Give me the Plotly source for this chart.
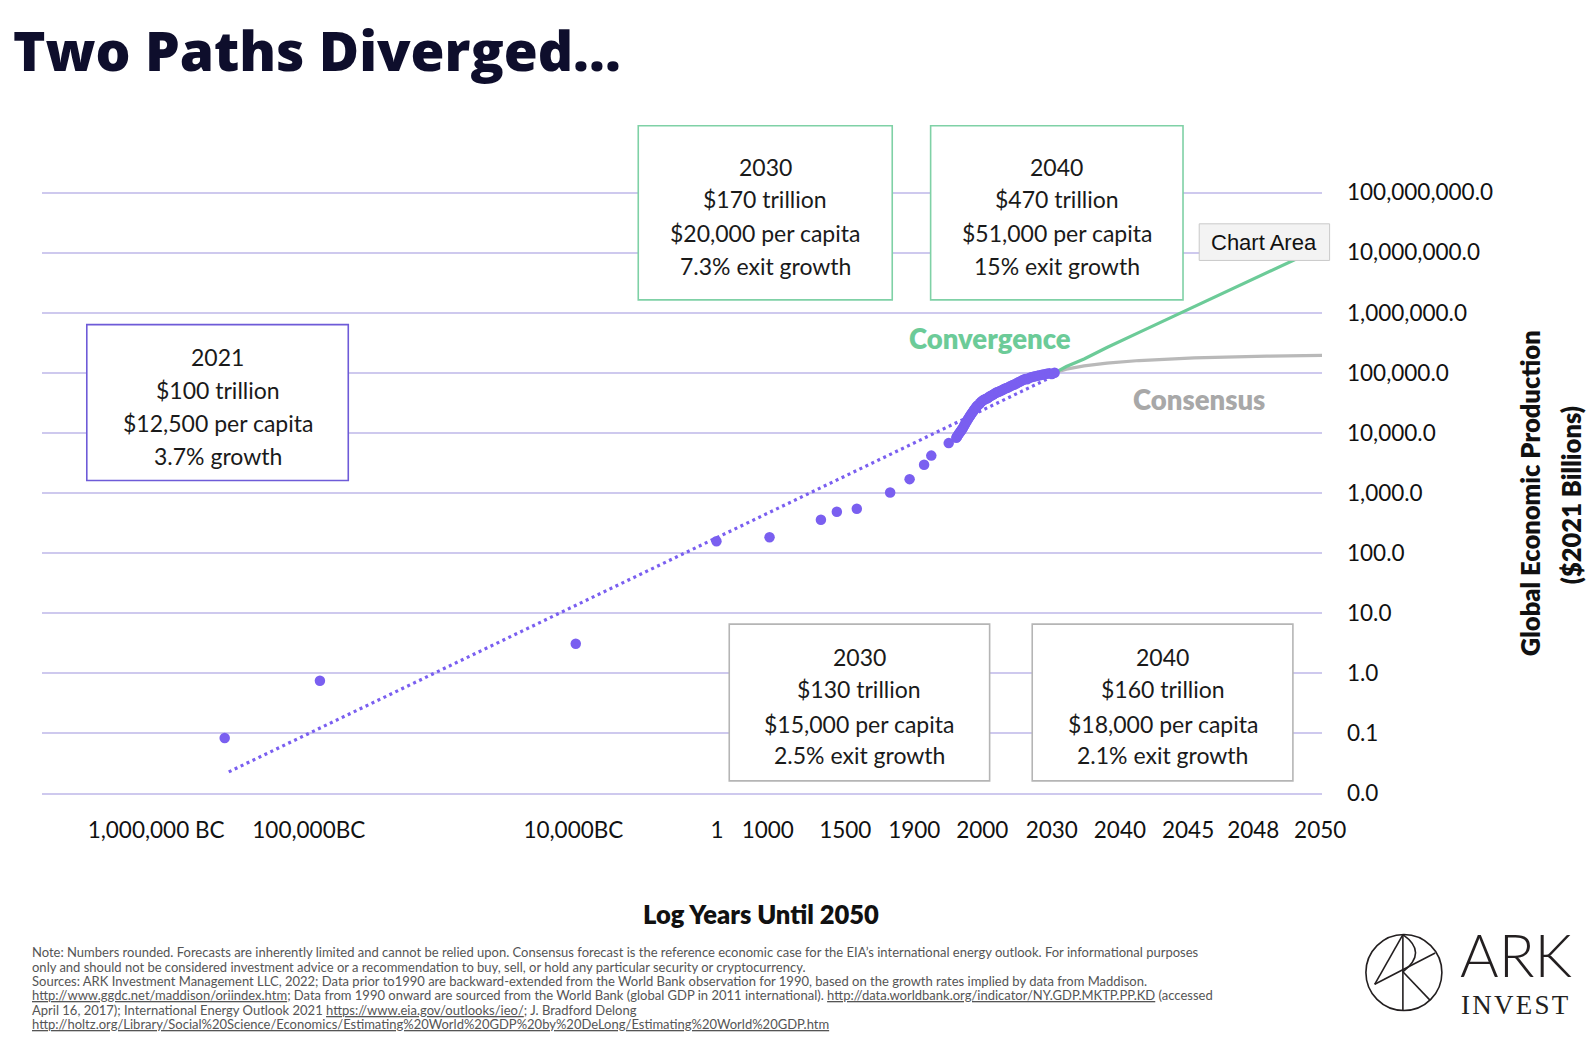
import plotly.graph_objects as go

# ---------------- data ----------------
HORIZON = 2050  # x axis = years until 2050 (log)

HIST_YEARS = [-1000000, -300000, -10000, 1, 1000, 1500, 1600, 1700, 1820, 1870, 1900, 1913, 1940]
HIST_GDP = [0.084, 0.75, 3.1, 157, 183, 359, 488, 547, 1020, 1700, 2960, 4190, 6760]

MODERN_YEARS = list(range(1950, 2022))
MODERN_GDP = [
    8300, 8700, 9100, 9600, 10000, 10500, 11000, 11500, 12000, 12900,
    13700, 14500, 15400, 16300, 17300, 18300, 19300, 20400, 21500, 22800,
    24000, 25300, 26700, 28100, 29000, 29800, 31600, 32900, 34100, 35300,
    36100, 36800, 37400, 38400, 39900, 41000, 42100, 43000, 44600, 46100,
    47300, 48000, 49100, 50200, 51900, 53300, 55000, 56000, 57200, 59000,
    61100, 62500, 64000, 66200, 69000, 71000, 73700, 76800, 78500, 78100,
    81800, 84000, 86000, 87500, 89200, 90800, 92500, 94400, 96300, 98000,
    95300, 100000,
]

TREND_YEARS = [-950000, 2020]
TREND_GDP = [0.0229, 85700]

FORECAST_YEARS = [2021, 2025, 2030, 2035, 2040, 2045, 2048, 2049]
CONVERGENCE_GDP = [100000, 127000, 170000, 263000, 470000, 1260000, 4600000, 12400000]
CONSENSUS_GDP = [100000, 115000, 130000, 145000, 160000, 177000, 189000, 195000]

Y_TICKS = [0.01, 0.1, 1, 10, 100, 1000, 1e4, 1e5, 1e6, 1e7, 1e8]
Y_TICK_TEXT = ["0.0", "0.1", "1.0", "10.0", "100.0", "1,000.0", "10,000.0",
               "100,000.0", "1,000,000.0", "10,000,000.0", "100,000,000.0"]

X_TICK_TEXT = ["1,000,000 BC", "100,000BC", "10,000BC", "1", "1000", "1500", "1900",
               "2000", "2030", "2040", "2045", "2048", "2050"]
# where each label sits, in "years until 2050"
X_TICK_POS = [2.377e6, 3.475e5, 12420, 2037, 1074, 404.6, 169.8, 72.1, 30.06, 12.74, 5.40, 2.377, 1.023]

BOX_2021 = ["2021", "$100 trillion", "$12,500 per capita", "3.7% growth"]
BOX_CONV_2030 = ["2030", "$170 trillion", "$20,000 per capita", "7.3% exit growth"]
BOX_CONV_2040 = ["2040", "$470 trillion", "$51,000 per capita", "15% exit growth"]
BOX_CONS_2030 = ["2030", "$130 trillion", "$15,000 per capita", "2.5% exit growth"]
BOX_CONS_2040 = ["2040", "$160 trillion", "$18,000 per capita", "2.1% exit growth"]

FOOTNOTE = [
    "Note: Numbers rounded. Forecasts are inherently limited and cannot be relied upon. Consensus forecast is the reference economic case for the EIA\u2019s international energy outlook. For informational purposes",
    "only and should not be considered investment advice or a recommendation to buy, sell, or hold any particular security or cryptocurrency.",
    "Sources: ARK Investment Management LLC, 2022; Data prior to1990 are backward-extended from the World Bank observation for 1990, based on the growth rates implied by data from Maddison.",
    "<u>http://www.ggdc.net/maddison/oriindex.htm</u>; Data from 1990 onward are sourced from the World Bank (global GDP in 2011 international). <u>http://data.worldbank.org/indicator/NY.GDP.MKTP.PP.KD</u> (accessed",
    "April 16, 2017); International Energy Outlook 2021 <u>https://www.eia.gov/outlooks/ieo/</u>; J. Bradford Delong",
    "<u>http://holtz.org/Library/Social%20Science/Economics/Estimating%20World%20GDP%20by%20DeLong/Estimating%20World%20GDP.htm</u>",
]

# ---------------- style ----------------
PURPLE = "#7A5FF0"
GREEN = "#6CCB98"
GRAY = "#B9B9B9"
GRID = "#CEC9EE"
INK = "#1A1A1A"
FONT = "Lato"

W, H = 1596, 1050
# plot area in page pixels (y range padded by 0.025 decade each side so edge gridlines show)
L, R, T, B = 41.7, 1321.8, 191.2, 794.8


def PX(px):
    return (px - L) / (R - L)


def PY(py):
    return (B - py) / (B - T)


def yu(years):
    return [HORIZON - y for y in years]


fig = go.Figure()

fig.add_trace(go.Scatter(
    x=yu(TREND_YEARS), y=TREND_GDP, mode="lines",
    line=dict(color=PURPLE, width=3.2, dash="3px,3.6px"), hoverinfo="skip"))
fig.add_trace(go.Scatter(
    x=yu(FORECAST_YEARS), y=CONSENSUS_GDP, mode="lines",
    line=dict(color=GRAY, width=3.2), name="Consensus"))
fig.add_trace(go.Scatter(
    x=yu(FORECAST_YEARS), y=CONVERGENCE_GDP, mode="lines",
    line=dict(color=GREEN, width=3.2), name="Convergence"))
fig.add_trace(go.Scatter(
    x=yu(HIST_YEARS), y=HIST_GDP, mode="markers",
    marker=dict(color=PURPLE, size=10.5), name="History"))
fig.add_trace(go.Scatter(
    x=yu(MODERN_YEARS), y=MODERN_GDP, mode="markers",
    marker=dict(color=PURPLE, size=10.5), name="Modern"))

shapes = []
annotations = []


def text(px, py, s, size, color=INK, weight=400, xanchor="center", yanchor="middle",
         family=FONT, angle=0, align="center"):
    annotations.append(dict(
        x=PX(px), y=PY(py), xref="paper", yref="paper", text=s, showarrow=False,
        xanchor=xanchor, yanchor=yanchor, textangle=angle, borderpad=0, align=align,
        font=dict(family=family, size=size, color=color, weight=weight)))


def box(x0, y0, x1, y1, color, lines, line_ys, fill="white", width=1.6):
    shapes.append(dict(type="rect", xref="paper", yref="paper",
                       x0=PX(x0), x1=PX(x1), y0=PY(y1), y1=PY(y0),
                       line=dict(color=color, width=width), fillcolor=fill, layer="above"))
    cx = (x0 + x1) / 2
    for s, ly in zip(lines, line_ys):
        text(cx, ly, s, 23)


# title
text(12, 50, "Two Paths Diverged...", 55, color="#0E0E2C", weight=800, xanchor="left",
     family="Open Sans")

# boxes
top_ys = [167, 199.5, 233, 265.7]
box(638, 126, 892, 300, "#7FD1A6", BOX_CONV_2030, top_ys)
box(930.4, 126, 1182.8, 300, "#7FD1A6", BOX_CONV_2040, top_ys)
box(86.5, 324.7, 348, 480.5, "#6E5BD8", BOX_2021, [357, 390, 423.5, 456])
bot_ys = [656.6, 689, 723.8, 755.3]
box(729, 624, 989.4, 780.7, "#B5B5B5", BOX_CONS_2030, bot_ys)
box(1032, 624, 1292.7, 780.7, "#B5B5B5", BOX_CONS_2040, bot_ys)

# series labels
text(990, 339, "Convergence", 27.5, color=GREEN, weight=800)
text(1199, 400, "Consensus", 27.5, color="#A8A8A8", weight=800)

# "Chart Area" tooltip
shapes.append(dict(type="rect", xref="paper", yref="paper",
                   x0=PX(1199), x1=PX(1329.4), y0=PY(260.6), y1=PY(224),
                   line=dict(color="#C9C9C9", width=1), fillcolor="#F3F3F3", layer="above"))
text(1264, 243, "Chart Area", 22, color="#111111", family="Liberation Sans")

# axis titles
text(761, 914, "Log Years Until 2050", 25.5, color="#111111", weight=800)
text(1530, 493, "Global Economic Production", 25.5, color="#111111", weight=800, angle=-90)
text(1571, 495, "($2021 Billions)", 25.5, color="#111111", weight=800, angle=-90)

# footnote
for i, line in enumerate(FOOTNOTE):
    text(30.5, 951.8 + i * 14.45, line, 13, color="#555555", xanchor="left")

# ARK logo
LOGO = "#231F20"
cx, cy, r = 1403.7, 972.2, 38
shapes.append(dict(type="circle", xref="paper", yref="paper",
                   x0=PX(cx - r), x1=PX(cx + r), y0=PY(cy + r), y1=PY(cy - r),
                   line=dict(color=LOGO, width=1.6), layer="above"))
for (ax, ay, bx, by) in [(1402.7, 934.3, 1402.7, 1010.2), (1402.7, 934.3, 1374.5, 984),
                         (1374.5, 984, 1435, 952.7), (1402.7, 971.5, 1430, 1000)]:
    shapes.append(dict(type="line", xref="paper", yref="paper",
                       x0=PX(ax), y0=PY(ay), x1=PX(bx), y1=PY(by),
                       line=dict(color=LOGO, width=1.6), layer="above"))
shapes.append(dict(type="path", xref="paper", yref="paper",
                   path=f"M {PX(1402.7)},{PY(934.3)} Q {PX(1428)},{PY(952)} {PX(1402.7)},{PY(971.5)}",
                   line=dict(color=LOGO, width=1.6), layer="above"))
text(1459, 954, "ARK", 59, color=LOGO, weight=300, xanchor="left")
text(1460, 1005, "I\u200aN\u200aV\u200aE\u200aS\u200aT", 27, color=LOGO, xanchor="left",
     family="Liberation Serif")

fig.update_layout(
    width=W, height=H,
    margin=dict(l=L, r=W - R, t=T, b=H - B, autoexpand=False),
    paper_bgcolor="white", plot_bgcolor="white",
    showlegend=False,
    font=dict(family=FONT, color="#111111"),
    shapes=shapes, annotations=annotations,
    xaxis=dict(type="log", range=[7, 0], tickvals=X_TICK_POS, ticktext=X_TICK_TEXT,
               showgrid=False, zeroline=False, showline=False, ticks="",
               tickfont=dict(family=FONT, size=22.5, color="#111111"),
               ticklabelstandoff=19, automargin=False),
    yaxis=dict(type="log", range=[-2.025, 8.025], side="right",
               tickvals=Y_TICKS, ticktext=Y_TICK_TEXT,
               showgrid=True, gridcolor=GRID, gridwidth=1.6,
               zeroline=False, showline=False, ticks="",
               tickfont=dict(family=FONT, size=22.5, color="#111111"),
               ticklabelstandoff=24, automargin=False),
)

fig.write_html("out.html", config={"displayModeBar": False},
               post_script="document.body.style.margin='0';")
